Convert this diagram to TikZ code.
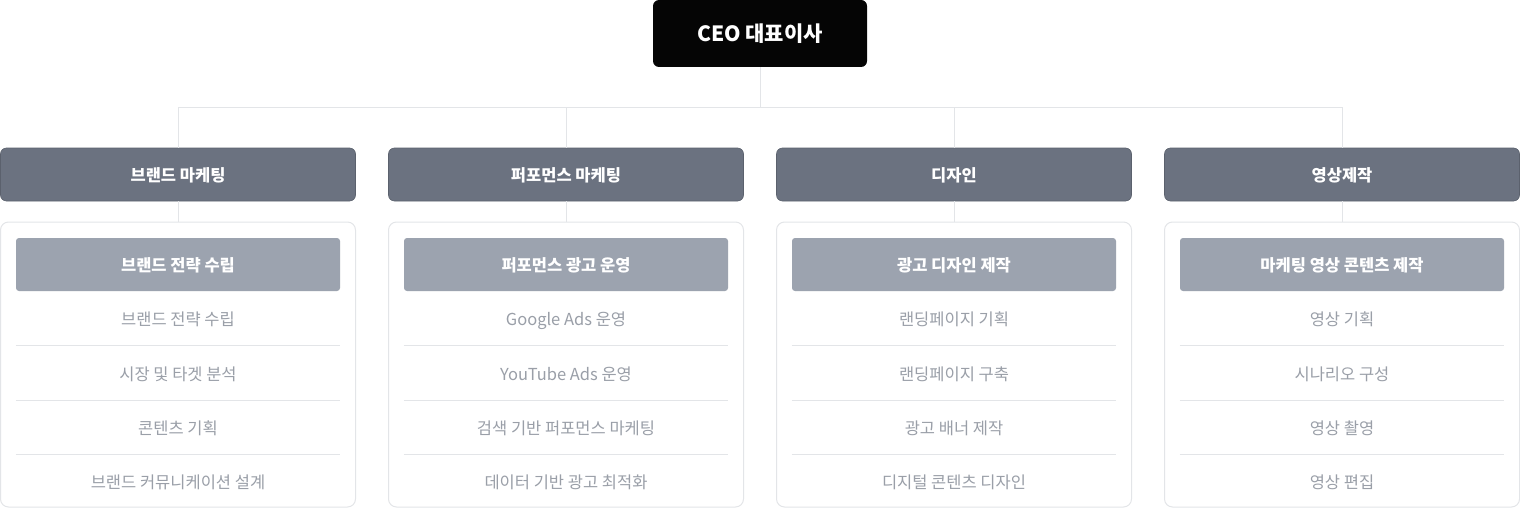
\documentclass[tikz,border=0pt]{standalone}
\usepackage{fontspec}
\setmainfont{Noto Sans CJK KR}
\usetikzlibrary{positioning}
\definecolor{CeoCol}{HTML}{050505}
\definecolor{DeptCol}{HTML}{6B7280}
\definecolor{HeadCol}{HTML}{9CA3AF}
\definecolor{ItemCol}{HTML}{9A9FA8}
\definecolor{LineCol}{HTML}{E3E5E8}
\tikzstyle{ceo} = [rectangle, rounded corners=6pt, fill=CeoCol, text=white, font=\bfseries\fontsize{21}{25}\selectfont, minimum width=214pt, minimum height=67pt, inner sep=0pt, text height=18pt, text depth=1pt]
\tikzstyle{dept} = [rectangle, rounded corners=6pt, fill=DeptCol, draw=DeptCol!85!black, line width=0.6pt, text=white, font=\bfseries\fontsize{16.5}{19}\selectfont, minimum width=355pt, minimum height=53pt, inner sep=0pt, text height=15pt, text depth=0.5pt]
\tikzstyle{panel} = [rectangle, rounded corners=8pt, draw=LineCol, fill=white, line width=1pt, minimum width=355pt, minimum height=285pt, inner sep=0pt]
\tikzstyle{head} = [rectangle, rounded corners=3pt, fill=HeadCol, text=white, font=\bfseries\fontsize{16.5}{19}\selectfont, minimum width=324pt, minimum height=53pt, inner sep=0pt, text height=15pt, text depth=0.5pt]
\tikzstyle{item} = [rectangle, text=ItemCol, font=\fontsize{16.5}{19}\selectfont, minimum width=324pt, minimum height=54pt, inner sep=0pt, text height=15pt, text depth=0.5pt]
\tikzstyle{conn} = [draw=LineCol, line width=1pt]

\begin{document}
\begin{tikzpicture}[x=1pt, y=-1pt]
    \useasboundingbox (0,0) rectangle (1520,508);
    \node[ceo] (ceo) at (760,33.5) {CEO 대표이사};
    \foreach \i/\dname/\hname/\ia/\ib/\ic/\id in {
        1/브랜드 마케팅/브랜드 전략 수립/브랜드 전략 수립/시장 및 타겟 분석/콘텐츠 기획/브랜드 커뮤니케이션 설계,
        2/퍼포먼스 마케팅/퍼포먼스 광고 운영/Google Ads 운영/YouTube Ads 운영/검색 기반 퍼포먼스 마케팅/데이터 기반 광고 최적화,
        3/디자인/광고 디자인 제작/랜딩페이지 기획/랜딩페이지 구축/광고 배너 제작/디지털 콘텐츠 디자인,
        4/영상제작/마케팅 영상 콘텐츠 제작/영상 기획/시나리오 구성/영상 촬영/영상 편집}{
        \node[dept] (dept\i) at ({178+388*(\i-1)},174.5) {\dname};
        \node[panel] (panel\i) at ({178+388*(\i-1)},364.5) {};
        \node[head] (head\i) at ({178+388*(\i-1)},264.5) {\hname};
        \node[item, below=0pt of head\i] (item\i a) {\ia};
        \node[item, below=0pt of item\i a] (item\i b) {\ib};
        \node[item, below=0pt of item\i b] (item\i c) {\ic};
        \node[item, below=0pt of item\i c] (item\i d) {\id};
        % separators
        \draw[conn] (item\i a.south west) -- (item\i a.south east);
        \draw[conn] (item\i b.south west) -- (item\i b.south east);
        \draw[conn] (item\i c.south west) -- (item\i c.south east);
        % connectors
        \draw[conn] (ceo.south) -- ++(0,40) -| (dept\i.north);
        \draw[conn] (dept\i.south) -- (panel\i.north);
    }
\end{tikzpicture}
\end{document}
